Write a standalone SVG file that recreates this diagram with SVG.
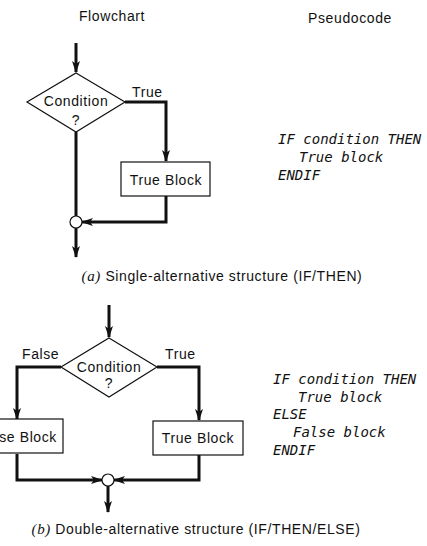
<svg xmlns="http://www.w3.org/2000/svg" width="427" height="546" viewBox="0 0 427 546">
<defs>
<marker id="ah" viewBox="0 0 12 8" refX="11" refY="4" markerWidth="12" markerHeight="8" markerUnits="userSpaceOnUse" orient="auto">
<path d="M0,0 L12,4 L0,8 L3,4 z" fill="#111"/>
</marker>
<style>
.t{font-family:"Liberation Sans",Arial,sans-serif;font-size:14px;letter-spacing:0.6px;fill:#111}
.c{text-anchor:middle}
.m{font-family:"DejaVu Sans Mono","Liberation Mono",monospace;font-size:14px;font-style:italic;fill:#111}
.ab{font-family:"Liberation Serif",serif;font-style:italic;font-size:15px}
.shape{fill:#fff;stroke:#111;stroke-width:1.2}
.flow{fill:none;stroke:#111;stroke-width:3;stroke-linejoin:miter}
.arr{marker-end:url(#ah)}
</style>
</defs>
<rect width="427" height="546" fill="#fff"/>

<text class="t c" x="112" y="21">Flowchart</text>
<text class="t c" x="350" y="23">Pseudocode</text>

<g id="connectors">
<!-- (a) -->
<path class="flow arr" d="M76,43 V72"/>
<path class="flow" d="M76,132 V216"/>
<path class="flow arr" d="M125,102 H166 V161"/>
<path class="flow arr" d="M166,196 V222 H82"/>
<path class="flow arr" d="M76,228 V257"/>
<!-- (b) -->
<path class="flow arr" d="M109,305 V337"/>
<path class="flow arr" d="M61,367 H17 V419"/>
<path class="flow arr" d="M157,367 H199 V420"/>
<path class="flow arr" d="M17,454 V480 H102"/>
<path class="flow arr" d="M199,455 V480 H114"/>
<path class="flow arr" d="M108,486 V512"/>
</g>

<g id="a-decision">
<polygon class="shape" points="76,73 125,102 76,132 27,102"/>
<text class="t c" x="76" y="106">Condition</text>
<text class="t c" x="76" y="125">?</text>
</g>
<g id="a-true-label"><text class="t" x="132" y="97">True</text></g>
<g id="a-true-block">
<rect class="shape" x="121" y="162" width="89" height="34"/>
<text class="t c" x="166" y="185">True Block</text>
</g>
<g id="a-join"><circle class="shape" cx="76" cy="222" r="6"/></g>
<g id="a-pseudo">
<text class="m" x="278" y="144">IF condition THEN</text>
<text class="m" x="299" y="162">True block</text>
<text class="m" x="278" y="180">ENDIF</text>
</g>
<text class="t c" x="222" y="281"><tspan class="ab">(a)</tspan> Single-alternative structure (IF/THEN)</text>

<g id="b-decision">
<polygon class="shape" points="109,338 157,367 109,397 61,367"/>
<text class="t c" x="109" y="372">Condition</text>
<text class="t c" x="109" y="388">?</text>
</g>
<g id="b-false-label"><text class="t" x="22" y="359">False</text></g>
<g id="b-true-label"><text class="t" x="165" y="359">True</text></g>
<g id="b-false-block">
<rect class="shape" x="-26" y="419" width="89" height="34"/>
<text class="t" x="-22" y="442">False Block</text>
</g>
<g id="b-true-block">
<rect class="shape" x="153" y="421" width="90" height="34"/>
<text class="t c" x="198" y="443">True Block</text>
</g>
<g id="b-join"><circle class="shape" cx="108" cy="480" r="6"/></g>
<g id="b-pseudo">
<text class="m" x="273" y="384">IF condition THEN</text>
<text class="m" x="298" y="402">True block</text>
<text class="m" x="273" y="419">ELSE</text>
<text class="m" x="293" y="437">False block</text>
<text class="m" x="273" y="455">ENDIF</text>
</g>
<text class="t c" x="196" y="534"><tspan class="ab">(b)</tspan> Double-alternative structure (IF/THEN/ELSE)</text>
</svg>
